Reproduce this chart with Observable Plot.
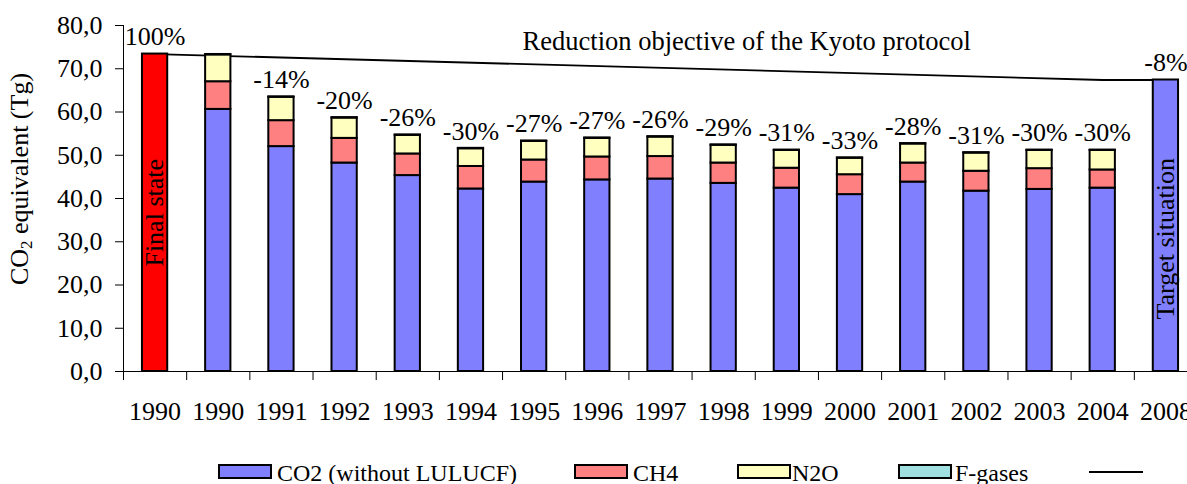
<!DOCTYPE html>
<html><head><meta charset="utf-8">
<script src="https://cdn.jsdelivr.net/npm/d3@7"></script>
<script src="https://cdn.jsdelivr.net/npm/@observablehq/plot@0.6"></script>
<style>
html,body{margin:0;padding:0;background:#fff;}
body{width:1187px;height:484px;overflow:hidden;position:relative;font-family:"Liberation Serif","Times New Roman",serif;color:#000;}
#chart{position:absolute;left:0;top:0;}
.sw{position:absolute;top:464px;width:50px;height:11px;border:2px solid #000;}
.lab{position:absolute;top:460px;font-size:24px;line-height:26px;white-space:nowrap;}
.lline{position:absolute;top:471px;height:2px;background:#000;}
</style></head><body>
<div id="chart"></div>
<div id="legend"></div>
<script>
// ---- data ----
const categories = ["1990 (final state)", "1990", "1991", "1992", "1993", "1994", "1995", "1996", "1997", "1998", "1999", "2000", "2001", "2002", "2003", "2004", "2008 (target)"];
const tickLabels = ["1990", "1990", "1991", "1992", "1993", "1994", "1995", "1996", "1997", "1998", "1999", "2000", "2001", "2002", "2003", "2004", "2008"];
const years = ["1990", "1991", "1992", "1993", "1994", "1995", "1996", "1997", "1998", "1999", "2000", "2001", "2002", "2003", "2004"];
const co2    = [60.6, 52.0, 48.2, 45.3, 42.2, 43.8, 44.3, 44.5, 43.5, 42.4, 40.9, 43.8, 41.7, 42.1, 42.4];
const ch4    = [6.4, 6.0, 5.7, 5.0, 5.2, 5.1, 5.3, 5.2, 4.7, 4.6, 4.6, 4.4, 4.6, 4.8, 4.2];
const n2o    = [6.2, 5.4, 4.7, 4.3, 4.1, 4.3, 4.3, 4.5, 4.1, 4.1, 3.8, 4.4, 4.2, 4.2, 4.5];
const fgases = [0.1, 0.1, 0.1, 0.1, 0.1, 0.1, 0.1, 0.1, 0.1, 0.1, 0.1, 0.1, 0.1, 0.1, 0.1];
const finalState = 73.4;
const target = 67.4;
const pctLabels = ["100%", "", "-14%", "-20%", "-26%", "-30%", "-27%", "-27%", "-26%", "-29%", "-31%", "-33%", "-28%", "-31%", "-30%", "-30%", "-8%"];
const kyotoCats = ["1990 (final state)", "2004", "2008 (target)"];
const kyotoVals = [73.4, 67.4, 67.4];
const kyotoLabel = "Reduction objective of the Kyoto protocol";
const seriesNames = ["CO2 (without LULUCF)", "CH4", "N2O", "F-gases"];
const seriesColors = ["#8080ff", "#ff8080", "#ffffc0", "#a0e0e0"];
const yTicks = [0, 10, 20, 30, 40, 50, 60, 70, 80];

// ---- table for the library ----
const rows = [];
rows.push({cat: categories[0], series: "Final state", value: finalState});
years.forEach((y, i) => {
  rows.push({cat: y, series: seriesNames[0], value: co2[i]});
  rows.push({cat: y, series: seriesNames[1], value: ch4[i]});
  rows.push({cat: y, series: seriesNames[2], value: n2o[i]});
  rows.push({cat: y, series: seriesNames[3], value: fgases[i]});
});
rows.push({cat: categories[16], series: seriesNames[0], value: target});
const totals = categories.map((c, i) => ({cat: c, total: d3.sum(rows.filter(r => r.cat === c), r => r.value), label: pctLabels[i]}));

const x0 = 123, x1 = 1197;
const step = (x1 - x0) / categories.length;

const chart = Plot.plot({
  width: 1187, height: 440,
  marginTop: 25, marginBottom: 69, marginLeft: 123, marginRight: 0,
  style: {fontFamily: "'Liberation Serif','Times New Roman',serif", fontSize: "26px", color: "#000", background: "#fff"},
  x: {domain: categories, range: [x0, x1], paddingInner: 0.6, paddingOuter: 0.3, round: false},
  y: {domain: [0, 80]},
  color: {domain: [...seriesNames, "Final state"], range: [...seriesColors, "#ff0000"]},
  marks: [
    Plot.line(kyotoVals, {x: kyotoCats, y: d => d, stroke: "#000", strokeWidth: 1.8}),
    Plot.barY(rows, {x: "cat", y: "value", fill: "series", stroke: "#000", strokeWidth: 2}),
    Plot.ruleY([0], {stroke: "#000", strokeWidth: 1.2}),
    Plot.ruleX([categories[0]], {dx: -step / 2, y1: 0, y2: 80, stroke: "#000", strokeWidth: 1}),
    Plot.ruleX(categories, {dx: -step / 2, y1: 0, y2: -2.1, stroke: "#000", strokeWidth: 1}),
    Plot.axisY({ticks: yTicks, tickSize: 8, tickPadding: 13, label: null, tickFormat: d => d.toFixed(1).replace(".", ",")}),
    Plot.axisX({tickSize: 0, tickPadding: 30, label: null, tickFormat: d => tickLabels[categories.indexOf(d)]}),
    Plot.text(totals.filter(d => d.label), {x: "cat", y: "total", text: "label", dy: -17}),
    Plot.text([totals[0]], {x: "cat", y: d => d.total / 2, text: () => "Final state", rotate: -90}),
    Plot.text([totals[16]], {x: "cat", y: d => d.total / 2, text: () => "Target situation", rotate: -90, dy: 13}),
    Plot.text([kyotoLabel], {x: () => "1998", y: () => 76.3, text: d => d, dx: 23, fontSize: 26.5})
  ]
});
document.getElementById("chart").appendChild(chart);

// y-axis title with subscript
const svg = d3.select(chart);
const t = svg.append("text")
  .attr("transform", "translate(22,179) rotate(-90)")
  .attr("text-anchor", "middle")
  .attr("dominant-baseline", "middle")
  .attr("font-size", 26)
  .attr("fill", "#000");
t.append("tspan").text("CO");
t.append("tspan").attr("font-size", 17).attr("dy", 6).text("2");
t.append("tspan").attr("dy", -6).text(" equivalent (Tg)");

// legend
const legend = document.getElementById("legend");
const swLeft = [218, 574, 737, 898];
const labLeft = [277, 633, 792, 955];
seriesNames.forEach((s, i) => {
  const sw = document.createElement("div");
  sw.className = "sw"; sw.style.left = swLeft[i] + "px"; sw.style.background = seriesColors[i];
  legend.appendChild(sw);
  const lb = document.createElement("div");
  lb.className = "lab"; lb.style.left = labLeft[i] + "px"; lb.textContent = s;
  legend.appendChild(lb);
});
const ll = document.createElement("div");
ll.className = "lline"; ll.style.left = "1089px"; ll.style.width = "54px";
legend.appendChild(ll);
</script>
</body></html>
